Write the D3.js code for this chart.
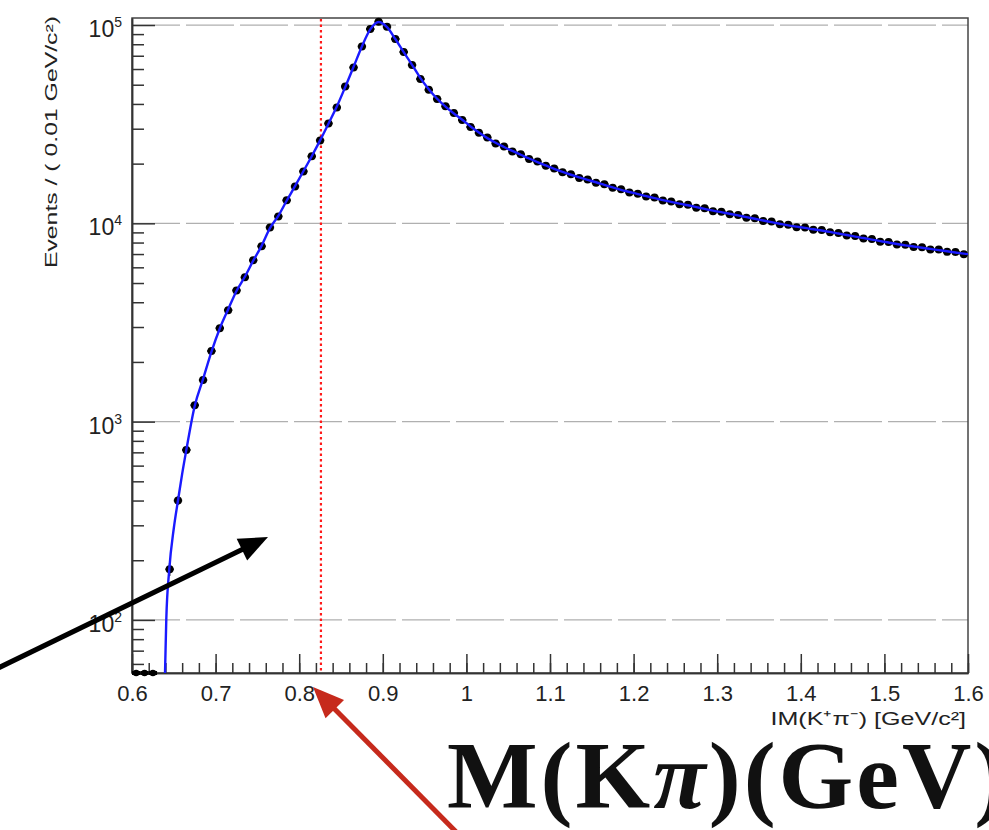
<!DOCTYPE html>
<html>
<head>
<meta charset="utf-8">
<script src="https://cdn.jsdelivr.net/npm/d3@7"></script>
<style>
  body { margin: 0; background: #fff; }
  svg { display: block; font-family: "Liberation Sans", Arial, sans-serif; }
</style>
</head>
<body>
<div id="chart"></div>
<script>
/**
 * DATA
 * histogram of IM(K+pi-), 0.01 GeV bins starting at 0.6
 */
const binLow = 0.6, binWidth = 0.01;
// null = bin not drawn
const eventCounts = [
  0, 0, 0, null,
  180, 400, 720, 1210, 1620, 2270, 2960, 3650, 4590, 5340,
  6510, 7660, 9540, 10840, 13060, 15350, 18280, 21760, 26200, 31900,
  38400, 49000, 61100, 78000, 95500, 104000, 98000, 85000, 73100, 62800,
  53400, 47100, 42400, 38900, 36000, 33200, 30600, 28600,
  27100, 25300, 24400, 23000, 22300, 21100, 20500, 19500, 18900, 18100,
  17700, 16950, 16650, 16000, 15750, 15100, 14850, 14300, 14100, 13650,
  13480, 13020, 12900, 12480, 12400, 12000, 11900, 11520, 11450, 11100,
  11020, 10680, 10600, 10270, 10200, 9890, 9830, 9560, 9540, 9270,
  9250, 9010, 8940, 8680, 8620, 8380, 8330, 8080, 8050, 7820,
  7790, 7590, 7580, 7380, 7370, 7180, 7170, 6990
];
// fit curve near the K pi threshold
const fitThresholdMass = [0.6390, 0.6395, 0.6410, 0.6445, 0.650, 0.655, 0.660];
const fitThresholdValues = [45, 54, 100, 178, 290, 400, 545];
// fit curve at bin centres, from 0.665 on
const fitFirstBin = 6;
const fitValues = [
  720, 1200, 1640, 2250, 2950, 3680, 4560, 5380, 6480, 7700,
  9450, 10900, 13000, 15400, 18300, 21800, 26200, 31800, 38800, 48600,
  61500, 78000, 95000, 103500, 97500, 85000, 73000, 63000, 54000, 47500,
  42500, 38800, 35800, 33300, 30800, 28700,
  26900, 25470, 24270, 23170, 22180, 21230, 20370, 19590, 18840, 18160,
  17580, 17060, 16560, 16110, 15630, 15170, 14760, 14390, 14030, 13710,
  13400, 13090, 12820, 12560, 12330, 12080, 11830, 11590, 11380, 11170,
  10960, 10740, 10540, 10330, 10140, 9950, 9770, 9620, 9480, 9330,
  9200, 9060, 8890, 8730, 8570, 8430, 8280, 8130, 8000, 7870,
  7740, 7640, 7530, 7430, 7330, 7230, 7130, 7030
];
const fitEndMass = 1.6, fitEndValue = 6990;
const cutMass = 0.826;

const xTicks = [0.6, 0.7, 0.8, 0.9, 1.0, 1.1, 1.2, 1.3, 1.4, 1.5, 1.6];
const xTickLabels = ["0.6", "0.7", "0.8", "0.9", "1", "1.1", "1.2", "1.3", "1.4", "1.5", "1.6"];
const yDecades = [2, 3, 4, 5];

/**
 * LAYOUT
 */
const width = 989, height = 830;
const margin = { top: 18, right: 21, bottom: 157, left: 132 };
const plotBottom = height - margin.bottom, plotRight = width - margin.right;

const svg = d3.select("#chart").append("svg")
  .attr("width", width).attr("height", height);

const x = d3.scaleLinear().domain([0.6, 1.6]).range([margin.left, plotRight]);
const y = d3.scaleLog().domain([54, 108500]).range([plotBottom, margin.top]);

svg.append("defs").append("clipPath").attr("id", "plot-clip")
  .append("rect")
  .attr("x", margin.left).attr("y", margin.top)
  .attr("width", plotRight - margin.left).attr("height", plotBottom - margin.top);

// horizontal grid at decades
svg.append("g")
  .selectAll("line")
  .data(yDecades)
  .join("line")
  .attr("x1", margin.left).attr("x2", plotRight)
  .attr("y1", d => y(Math.pow(10, d))).attr("y2", d => y(Math.pow(10, d)))
  .attr("stroke", "#b0b0b0").attr("stroke-width", 1.3)
  .attr("stroke-dasharray", "48,6");

// frame
svg.append("rect")
  .attr("x", margin.left).attr("y", margin.top)
  .attr("width", plotRight - margin.left).attr("height", plotBottom - margin.top)
  .attr("fill", "none").attr("stroke", "#444").attr("stroke-width", 1.5);

// y axis: major + minor log ticks, inward
const yMinor = [];
[1, 2, 3, 4].forEach(k => d3.range(2, 10).forEach(m => {
  const v = m * Math.pow(10, k);
  if (v > 54 && v < 108500) yMinor.push(v);
}));
svg.append("g")
  .attr("transform", `translate(${margin.left},0)`)
  .call(d3.axisLeft(y).tickValues(yMinor).tickSize(-12).tickSizeOuter(0).tickFormat(""));
const yMajorG = svg.append("g")
  .attr("transform", `translate(${margin.left},0)`)
  .call(d3.axisLeft(y).tickValues(yDecades.map(d => Math.pow(10, d)))
    .tickSize(-23).tickSizeOuter(0).tickPadding(10).tickFormat(() => "10"));
yMajorG.selectAll(".tick text")
  .attr("font-size", 23).attr("fill", "#222").attr("y", 4)
  .append("tspan")
  .attr("dy", -10).attr("font-size", 14)
  .text(d => Math.round(Math.log10(d)));

// x axis: major every 0.1, minor every 0.02, inward
svg.append("g")
  .attr("transform", `translate(0,${plotBottom})`)
  .call(d3.axisBottom(x).tickValues(d3.range(0, 51).map(i => 0.6 + i * 0.02))
    .tickSize(-10).tickSizeOuter(0).tickFormat(""));
const xAxisMajor = svg.append("g")
  .attr("transform", `translate(0,${plotBottom})`)
  .call(d3.axisBottom(x).tickValues(xTicks).tickSize(-19).tickSizeOuter(0)
    .tickPadding(12).tickFormat((d, i) => xTickLabels[i]));
xAxisMajor.selectAll(".tick text").attr("font-size", 22).attr("fill", "#222");

svg.selectAll(".domain, .tick line").attr("stroke", "#333").attr("stroke-width", 1.5);

// axis titles (ROOT stretched them along the text direction)
svg.append("text")
  .attr("transform", `translate(57,16) rotate(-90) scale(1.55,1)`)
  .attr("text-anchor", "end")
  .attr("font-size", 16).attr("fill", "#222")
  .text("Events / ( 0.01 GeV/c\u00b2)");

svg.append("text")
  .attr("transform", `translate(966,725) scale(1.32,1)`)
  .attr("text-anchor", "end")
  .attr("font-size", 19).attr("fill", "#222")
  .text("IM(K\u207a\u03c0\u207b) [GeV/c\u00b2]");

// cut line
svg.append("line")
  .attr("x1", x(cutMass)).attr("x2", x(cutMass))
  .attr("y1", margin.top + 1).attr("y2", plotBottom)
  .attr("stroke", "#ff1a1a").attr("stroke-width", 2.2)
  .attr("stroke-dasharray", "2.5,3");

// data points with error bars
const points = eventCounts
  .map((n, i) => ({ lo: binLow + i * binWidth, mid: binLow + (i + 0.5) * binWidth, n }))
  .filter(d => d.n !== null);
const yPos = n => n > 0 ? y(n) : plotBottom;

const dataG = svg.append("g");
dataG.selectAll("line.xerr")
  .data(points).join("line").attr("class", "xerr")
  .attr("x1", d => x(d.lo)).attr("x2", d => x(d.lo + binWidth))
  .attr("y1", d => yPos(d.n)).attr("y2", d => yPos(d.n))
  .attr("stroke", "#000").attr("stroke-width", d => d.n > 0 ? 2 : 4);
dataG.selectAll("line.yerr")
  .data(points.filter(d => d.n > 0)).join("line").attr("class", "yerr")
  .attr("x1", d => x(d.mid)).attr("x2", d => x(d.mid))
  .attr("y1", d => y(d.n + Math.sqrt(d.n))).attr("y2", d => y(d.n - Math.sqrt(d.n)))
  .attr("stroke", "#000").attr("stroke-width", 1.5);
dataG.selectAll("circle")
  .data(points).join("circle")
  .attr("cx", d => x(d.mid)).attr("cy", d => yPos(d.n))
  .attr("r", d => d.n > 0 ? 4 : 3.3)
  .attr("fill", "#000");

// fit curve
const fitPoints = fitThresholdMass.map((m, i) => [m, fitThresholdValues[i]])
  .concat(fitValues.map((v, i) => [binLow + (fitFirstBin + i + 0.5) * binWidth, v]))
  .concat([[fitEndMass, fitEndValue]]);
svg.append("path")
  .datum(fitPoints)
  .attr("clip-path", "url(#plot-clip)")
  .attr("fill", "none")
  .attr("stroke", "#1a1aff").attr("stroke-width", 2.4)
  .attr("d", d3.line().curve(d3.curveMonotoneX).x(d => x(d[0])).y(d => y(d[1])));

/**
 * ANNOTATIONS pasted over the plot (pixel space)
 */
function arrow(from, tip, color, w, headLen, headHalf) {
  const dx = tip[0] - from[0], dy = tip[1] - from[1];
  const len = Math.hypot(dx, dy), ux = dx / len, uy = dy / len;
  const bx = tip[0] - ux * headLen, by = tip[1] - uy * headLen;
  svg.append("line")
    .attr("x1", from[0]).attr("y1", from[1]).attr("x2", bx + ux * 2).attr("y2", by + uy * 2)
    .attr("stroke", color).attr("stroke-width", w);
  svg.append("polygon")
    .attr("points", [tip, [bx - uy * headHalf, by + ux * headHalf], [bx + uy * headHalf, by - ux * headHalf]]
      .map(p => p.join(",")).join(" "))
    .attr("fill", color);
}
arrow([-10, 672], [268, 537], "#000", 5, 29, 12);
arrow([470, 846], [313, 687], "#c62a1c", 5, 31, 13);

svg.append("text")
  .attr("x", 447).attr("y", 808)
  .attr("font-family", "'Liberation Serif', 'DejaVu Serif', serif")
  .attr("font-weight", "bold").attr("font-size", 96).attr("fill", "#111")
  .attr("letter-spacing", 3)
  .call(t => {
    t.append("tspan").text("M(K");
    t.append("tspan").attr("font-style", "italic").text("\u03c0");
    t.append("tspan").text(")(GeV)");
  });
</script>
</body>
</html>
